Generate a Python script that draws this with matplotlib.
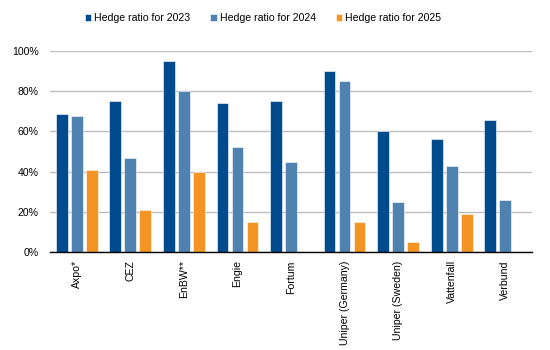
import matplotlib
matplotlib.use("Agg")
import matplotlib.pyplot as plt
import numpy as np
from matplotlib.ticker import PercentFormatter

plt.rcParams['font.family'] = ['Liberation Sans', 'DejaVu Sans']

categories = ["Axpo*", "CEZ", "EnBW**", "Engie", "Fortum", "Uniper (Germany)",
              "Uniper (Sweden)", "Vattenfall", "Verbund"]
hedge_2023 = [68.5, 75, 95, 74, 75, 90, 60, 56, 65.5]
hedge_2024 = [67.5, 47, 80, 52, 45, 85, 25, 43, 26]
hedge_2025 = [41, 21, 40, 15, 0, 15, 5, 19, 0]
series_labels = ["Hedge ratio for 2023", "Hedge ratio for 2024", "Hedge ratio for 2025"]
colors = ["#004B8D", "#4F81B1", "#F39425"]

fig = plt.figure(figsize=(5.5, 3.5), dpi=100)
ax = fig.add_axes([50/550, 1-252/350, 482/550, 201/350])

x = np.arange(len(categories))
w = 0.22
step = 0.28
for i, (vals, lab, c) in enumerate(zip([hedge_2023, hedge_2024, hedge_2025], series_labels, colors)):
    ax.bar(x + (i-1)*step, vals, width=w, color=c, label=lab,
           edgecolor="#ffffff", linewidth=0.4, zorder=3)

ax.set_xlim(-0.5, len(categories)-0.5)
ax.set_ylim(0, 100)
ax.set_yticks(np.arange(0, 101, 20))
ax.yaxis.set_major_formatter(PercentFormatter(decimals=0))
ax.grid(axis='y', color="#BDBDBD", linewidth=1.0, zorder=0)
for s in ['top', 'right', 'left']:
    ax.spines[s].set_visible(False)
ax.spines['bottom'].set_color('black')
ax.spines['bottom'].set_linewidth(1.0)
ax.spines['bottom'].set_zorder(4)
ax.set_xticks(x)
ax.set_xticklabels(categories, rotation=90, fontsize=7.6)
ax.tick_params(axis='x', length=0, pad=6)
ax.tick_params(axis='y', length=0, labelsize=7.6, pad=8)

fig.legend(loc='center', bbox_to_anchor=(263/550, 1-18/350), ncol=3, frameon=False,
           fontsize=7.6, handlelength=0.6, handleheight=0.6, handletextpad=0.3,
           columnspacing=1.9)

fig.savefig("out.png", dpi=100)
